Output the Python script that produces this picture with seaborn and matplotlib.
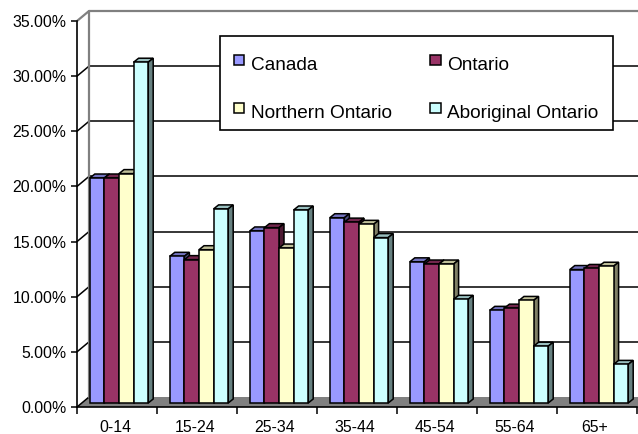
import matplotlib
matplotlib.use("Agg")
import matplotlib.pyplot as plt
from matplotlib.colors import to_rgb
from matplotlib.legend_handler import HandlerPatch
from matplotlib.patches import Polygon, Rectangle
from matplotlib.transforms import ScaledTranslation
import pandas as pd
import seaborn as sns

# values (percent)
age_groups = ["0-14", "15-24", "25-34", "35-44", "45-54", "55-64", "65+"]
canada = [20.4, 13.3, 15.6, 16.8, 12.8, 8.4, 12.1]
ontario = [20.4, 13.0, 15.9, 16.4, 12.6, 8.6, 12.2]
northern = [20.8, 13.9, 14.05, 16.2, 12.6, 9.3, 12.4]
aboriginal = [30.9, 17.6, 17.5, 15.0, 9.4, 5.15, 3.5]
y_ticks = [0, 5, 10, 15, 20, 25, 30, 35]

series_names = ["Canada", "Ontario", "Northern Ontario", "Aboriginal Ontario"]
series_colors = ["#9999FF", "#993366", "#FFFFCC", "#CCFFFF"]

sns.set_theme(style="white")
plt.rcParams["font.family"] = ["Liberation Sans", "DejaVu Sans"]

rows = []
for name, vals in zip(series_names, [canada, ontario, northern, aboriginal]):
    for age, v in zip(age_groups, vals):
        rows.append({"age": age, "series": name, "value": v})
df = pd.DataFrame(rows)

W, H = 638, 434
fig = plt.figure(figsize=(W / 100, H / 100), dpi=100, facecolor="white")
ax = fig.add_axes([77 / W, (H - 407) / H, 560 / W, 386 / H])

sns.barplot(data=df, x="age", y="value", hue="series", order=age_groups,
            hue_order=series_names, palette=series_colors, width=0.73, gap=0,
            saturation=1, edgecolor="black", linewidth=1.1, ax=ax)
ax.set_xlim(-0.5, 6.5)
ax.set_ylim(0, 35)
# seaborn also leaves empty rectangles for the legend, skip those
bars = sorted([p for p in ax.patches if p.get_height() > 0], key=lambda p: p.get_x())

# pixel sizes in data units
px_x = 1 / 80
px_y = 35 / 386
back_x, back_y = 12 * px_x, 10 * px_y
side_x, side_y = 5 * px_x, 4 * px_y

# floor, back wall and gridlines
ax.add_patch(Polygon([(-0.5, 0), (-0.5 + back_x, back_y), (7, back_y), (7, 0)],
                     facecolor="#808080", edgecolor="none", clip_on=False, zorder=1))
for t in y_ticks[1:-1]:
    ax.plot([-0.5 + back_x, 7], [t + back_y, t + back_y], color="black", lw=1.1,
            clip_on=False, zorder=1.5)
for t in y_ticks[:-1]:
    ax.plot([-0.5, -0.5 + back_x], [t, t + back_y], color="black", lw=1.1,
            clip_on=False, zorder=1.5)
ax.plot([-0.5, -0.5 + back_x, -0.5 + back_x], [35, 35 + back_y, back_y], color="#808080",
        lw=1.6, clip_on=False, zorder=1.6)
ax.plot([-0.5 + back_x, 7], [35 + back_y, 35 + back_y], color="#808080", lw=1.6,
        clip_on=False, zorder=1.6)

# bars stand a little behind the front plane
shift = ax.transData + ScaledTranslation(2 / 100, 4 / 100, fig.dpi_scale_trans)
for i, b in enumerate(bars):
    x0, x1, h = b.get_x(), b.get_x() + b.get_width(), b.get_height()
    r, g, bl = to_rgb(b.get_facecolor())
    b.set_transform(shift)
    b.set_zorder(3 + i * 0.01)
    b.set_clip_on(False)
    top = Polygon([(x0, h), (x0 + side_x, h + side_y), (x1 + side_x, h + side_y), (x1, h)],
                  facecolor=(r * 0.75, g * 0.75, bl * 0.75), edgecolor="black", lw=1.1,
                  transform=shift, clip_on=False, zorder=3 + i * 0.01 - 0.005)
    side = Polygon([(x1, 0), (x1 + side_x, side_y), (x1 + side_x, h + side_y), (x1, h)],
                   facecolor=(r * 0.5, g * 0.5, bl * 0.5), edgecolor="black", lw=1.1,
                   transform=shift, clip_on=False, zorder=3 + i * 0.01 - 0.005)
    ax.add_patch(top)
    ax.add_patch(side)

for s in ["top", "right"]:
    ax.spines[s].set_visible(False)
for s in ["left", "bottom"]:
    ax.spines[s].set_color("black")
    ax.spines[s].set_linewidth(1.2)
    ax.spines[s].set_zorder(5)

ax.set_xlabel("")
ax.set_ylabel("")
ax.set_yticks(y_ticks)
ax.set_yticklabels([f"{t:.2f}%" for t in y_ticks], fontsize=11.4, color="black")
ax.tick_params(axis="y", left=True, length=4.5, width=1.1, color="black", pad=3)
ax.set_xticks([i - 0.025 for i in range(len(age_groups))])
ax.set_xticklabels(age_groups, fontsize=11.4, color="black")
ax.set_xticks([i - 0.5 for i in range(8)], minor=True)
ax.tick_params(axis="x", which="major", bottom=False, length=0, pad=9.5)
ax.tick_params(axis="x", which="minor", bottom=True, length=5, width=1.1, color="black")

# legend box on its own, the text sits low in it in the reference
ax.add_patch(Rectangle((220 / W, (H - 130) / H), 393 / W, 94 / H, transform=fig.transFigure,
                       facecolor="white", edgecolor="black", lw=1.2, clip_on=False, zorder=9))

# two rows in the reference, matplotlib fills columns first
handles, labels = ax.get_legend_handles_labels()
col_order = [0, 2, 1, 3]
leg = ax.legend([handles[i] for i in col_order], [labels[i] for i in col_order],
                ncol=2, loc="upper left",
                bbox_to_anchor=(234 / W, (H - 55.5) / H), bbox_transform=fig.transFigure,
                fontsize=13.7, frameon=False, borderpad=0, borderaxespad=0,
                handlelength=0.55, handleheight=0.9, handletextpad=0.35,
                columnspacing=2.0, labelspacing=1.55, title=None,
                handler_map={Rectangle: HandlerPatch(ypad=0.35)})
leg.set_zorder(10)
for t in leg.get_texts():
    t.set_color("black")

fig.savefig("out.png", dpi=100)
plt.close(fig)
